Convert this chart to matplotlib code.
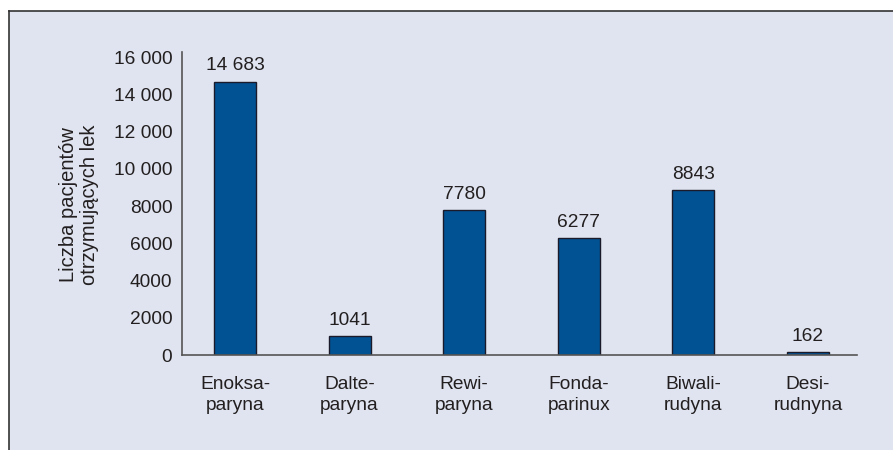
import matplotlib
matplotlib.use("Agg")
import matplotlib.pyplot as plt
from matplotlib.patches import Rectangle
from matplotlib.lines import Line2D

plt.rcParams['font.family'] = ['Liberation Sans', 'DejaVu Sans']

drugs = ["Enoksa-\nparyna", "Dalte-\nparyna", "Rewi-\nparyna",
         "Fonda-\nparinux", "Biwali-\nrudyna", "Desi-\nrudnyna"]
patients = [14683, 1041, 7780, 6277, 8843, 162]
y_ticks = [0, 2000, 4000, 6000, 8000, 10000, 12000, 14000, 16000]
y_labels = ["0", "2000", "4000", "6000", "8000", "10 000", "12 000", "14 000", "16 000"]

bg = "#dfe4f0"
bar_color = "#005293"
text_color = "#231f20"
fs = 13.8


def fmt(v):
    s = str(v)
    return s[:-3] + " " + s[-3:] if v >= 10000 else s


fig = plt.figure(figsize=(8.93, 4.5), dpi=100)
fig.patch.set_facecolor("white")

# framed panel
W, H = 893, 450
fig.patches.append(Rectangle((9 / W, 0), 1 - 9 / W, 1 - 11 / H, transform=fig.transFigure,
                             facecolor=bg, edgecolor="none", zorder=-10))
fig.lines.append(Line2D([9 / W, 1], [1 - 11 / H, 1 - 11 / H], transform=fig.transFigure,
                        color="#333333", lw=1.2, zorder=-5))
fig.lines.append(Line2D([9 / W, 9 / W], [0, 1 - 11 / H], transform=fig.transFigure,
                        color="#333333", lw=1.2, zorder=-5))

ax = fig.add_axes([182 / W, 1 - 355 / H, (857 - 182) / W, (355 - 52) / H])
ax.set_facecolor("none")
ax.set_zorder(1)

x = range(len(drugs))
ax.bar(x, patients, width=0.367, color=bar_color, edgecolor="#1a1a2a", linewidth=1)
for xi, v in zip(x, patients):
    ax.annotate(fmt(v), (xi, v), xytext=(0, 8), textcoords="offset points",
                ha="center", va="baseline", fontsize=fs, color=text_color)

ax.set_xlim(-0.4625, 5.428)
ax.set_ylim(0, 16270)
ax.set_yticks(y_ticks)
ax.set_yticklabels(y_labels)
ax.set_xticks(list(x))
ax.set_xticklabels(drugs, linespacing=1.32)
ax.tick_params(axis="both", length=0, labelsize=fs, colors=text_color)
ax.tick_params(axis="y", pad=7)
ax.tick_params(axis="x", pad=15)
for s in ["top", "right"]:
    ax.spines[s].set_visible(False)
for s in ["left", "bottom"]:
    ax.spines[s].set_color("#555555")
    ax.spines[s].set_linewidth(1.2)

fig.text(79 / W, 1 - 205 / H, "Liczba pacjentów\notrzymujących lek", rotation=90,
         ha="center", va="center", fontsize=14.5, color=text_color, linespacing=1.15)

fig.savefig("out.png", dpi=100, facecolor=fig.get_facecolor())
